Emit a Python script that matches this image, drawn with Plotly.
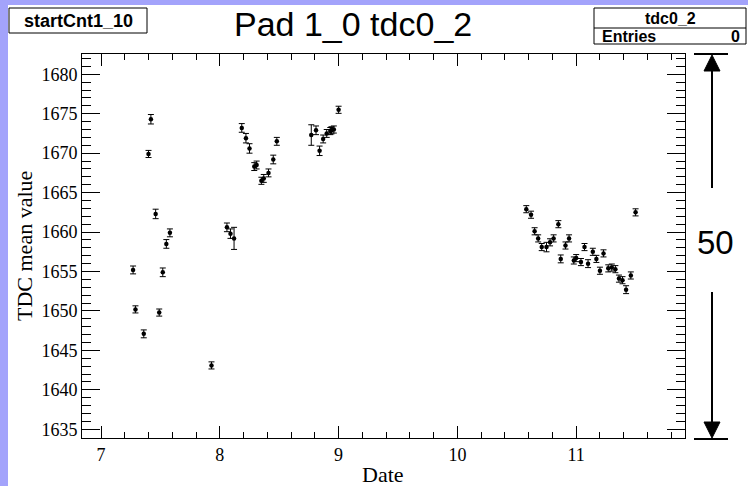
import plotly.graph_objects as go

# ---------------- data ----------------
dates = [7.27, 7.29, 7.36, 7.40, 7.42, 7.46, 7.49, 7.52, 7.55, 7.58,
         7.93,
         8.06, 8.09, 8.12, 8.185, 8.22, 8.25, 8.29, 8.31, 8.35, 8.37, 8.41, 8.45, 8.48,
         8.77, 8.81, 8.84, 8.87, 8.90, 8.93, 8.94, 8.96, 9.00,
         10.58, 10.62, 10.65, 10.68, 10.71, 10.75, 10.78, 10.81, 10.85, 10.87,
         10.91, 10.94, 10.98, 11.00, 11.04, 11.07, 11.10, 11.14, 11.17, 11.20,
         11.23, 11.27, 11.30, 11.33, 11.36, 11.39, 11.42, 11.46, 11.50]
tdc_mean = [1655.2, 1650.2, 1647.1, 1669.9, 1674.3, 1662.3, 1649.8, 1654.9, 1658.5, 1659.9,
            1643.1,
            1660.6, 1659.8, 1659.2, 1673.2, 1671.9, 1670.6, 1668.3, 1668.5, 1666.5, 1666.8, 1667.5, 1669.2, 1671.5,
            1672.3, 1672.9, 1670.3, 1671.8, 1672.5, 1672.8, 1672.9, 1673.0, 1675.5,
            1662.9, 1662.2, 1660.1, 1659.2, 1658.1, 1658.1, 1658.7, 1659.2, 1661.0, 1656.6,
            1658.3, 1659.2, 1656.4, 1656.7, 1656.2, 1658.1, 1656.0, 1657.5, 1656.6, 1655.1,
            1657.3, 1655.4, 1655.5, 1655.3, 1654.1, 1653.9, 1652.7, 1654.5, 1662.5]
tdc_err = [0.5, 0.45, 0.5, 0.45, 0.6, 0.6, 0.45, 0.55, 0.55, 0.5,
           0.45,
           0.55, 0.6, 1.4, 0.55, 0.6, 0.6, 0.5, 0.5, 0.45, 0.5, 0.5, 0.55, 0.5,
           1.3, 0.55, 0.6, 0.5, 0.5, 0.45, 0.45, 0.45, 0.45,
           0.45, 0.45, 0.45, 0.45, 0.45, 0.6, 0.45, 0.45, 0.45, 0.5,
           0.45, 0.45, 0.45, 0.45, 0.45, 0.45, 0.5, 0.45, 0.45, 0.45,
           0.45, 0.45, 0.45, 0.45, 0.45, 0.45, 0.5, 0.45, 0.45]

x_range = [6.840, 11.916]
y_range = [1633.90, 1682.57]
x_ticks = [7, 8, 9, 10, 11]
y_ticks = [1635, 1640, 1645, 1650, 1655, 1660, 1665, 1670, 1675, 1680]

title_text = "Pad 1_0 tdc0_2"
label_text = "startCnt1_10"
stats_name = "tdc0_2"
stats_entries = "0"
range_label = "50"

# ---------------- layout geometry (pixels) ----------------
W, H = 748, 486
L, R, T, B = 82, 685, 54, 438


def px(xp):
    return (xp - L) / (R - L)


def py(yp):
    return (B - yp) / (B - T)


BLUE = "#a3a3fb"
SANS = "Liberation Sans, Arial, sans-serif"
SERIF = "Liberation Serif, Times New Roman, serif"

fig = go.Figure()
fig.add_trace(go.Scatter(
    x=dates, y=tdc_mean, mode="markers",
    marker=dict(color="black", size=4.5, symbol="circle"),
    error_y=dict(type="data", array=tdc_err, visible=True, color="black",
                 thickness=1, width=3),
    showlegend=False, hoverinfo="x+y",
))

shapes = []
# white pad over the periwinkle canvas
shapes.append(dict(type="rect", xref="paper", yref="paper",
                   x0=px(8), x1=px(W + 2), y0=py(H + 2), y1=py(5),
                   fillcolor="white", line=dict(width=0), layer="below"))
# startCnt box
shapes.append(dict(type="rect", xref="paper", yref="paper",
                   x0=px(9), x1=px(147), y0=py(33), y1=py(8),
                   fillcolor="white", line=dict(color="black", width=1)))
# stats box
shapes.append(dict(type="rect", xref="paper", yref="paper",
                   x0=px(594), x1=px(746), y0=py(44), y1=py(8),
                   fillcolor="white", line=dict(color="black", width=1)))
shapes.append(dict(type="line", xref="paper", yref="paper",
                   x0=px(594), x1=px(746), y0=py(28), y1=py(28),
                   line=dict(color="black", width=1)))
# range arrow on the right
AX = 712
shapes.append(dict(type="line", xref="paper", yref="paper",
                   x0=px(694), x1=px(728), y0=py(T), y1=py(T),
                   line=dict(color="black", width=2)))
shapes.append(dict(type="line", xref="paper", yref="paper",
                   x0=px(694), x1=px(728), y0=py(B + 1), y1=py(B + 1),
                   line=dict(color="black", width=2)))
shapes.append(dict(type="line", xref="paper", yref="paper",
                   x0=px(AX), x1=px(AX), y0=py(T + 14), y1=py(188),
                   line=dict(color="black", width=2)))
shapes.append(dict(type="line", xref="paper", yref="paper",
                   x0=px(AX), x1=px(AX), y0=py(292), y1=py(B - 14),
                   line=dict(color="black", width=2)))


def tri(xc, ytip, ybase, hw):
    return "M {} {} L {} {} L {} {} Z".format(
        px(xc), py(ytip), px(xc - hw), py(ybase), px(xc + hw), py(ybase))


shapes.append(dict(type="path", xref="paper", yref="paper",
                   path=tri(AX, T + 1, T + 17, 8), fillcolor="black",
                   line=dict(color="black", width=1)))
shapes.append(dict(type="path", xref="paper", yref="paper",
                   path=tri(AX, B, B - 16, 8), fillcolor="black",
                   line=dict(color="black", width=1)))

annotations = [
    dict(text=title_text, xref="paper", yref="paper", x=px(353), y=py(24),
         showarrow=False, font=dict(family=SANS, size=34, color="black"),
         xanchor="center", yanchor="middle"),
    dict(text="<b>%s</b>" % label_text, xref="paper", yref="paper",
         x=px(78), y=py(20.5), showarrow=False,
         font=dict(family=SANS, size=18, color="black"),
         xanchor="center", yanchor="middle"),
    dict(text="<b>%s</b>" % stats_name, xref="paper", yref="paper",
         x=px(670), y=py(18), showarrow=False,
         font=dict(family=SANS, size=16, color="black"),
         xanchor="center", yanchor="middle"),
    dict(text="<b>Entries</b>", xref="paper", yref="paper",
         x=px(600), y=py(36.5), showarrow=False,
         font=dict(family=SANS, size=16, color="black"),
         xanchor="left", yanchor="middle"),
    dict(text="<b>%s</b>" % stats_entries, xref="paper", yref="paper",
         x=px(742), y=py(36.5), showarrow=False,
         font=dict(family=SANS, size=16, color="black"),
         xanchor="right", yanchor="middle"),
    dict(text=range_label, xref="paper", yref="paper",
         x=px(AX + 3), y=py(242), showarrow=False,
         font=dict(family=SANS, size=33, color="black"),
         xanchor="center", yanchor="middle"),
    dict(text="Date", xref="paper", yref="paper",
         x=px(383), y=py(474), showarrow=False,
         font=dict(family=SERIF, size=22, color="black"),
         xanchor="center", yanchor="middle"),
    dict(text="TDC mean value", xref="paper", yref="paper",
         x=px(24), y=py(246), showarrow=False, textangle=-90,
         font=dict(family=SERIF, size=22, color="black"),
         xanchor="center", yanchor="middle"),
]

axis_common = dict(showgrid=False, zeroline=False, showline=True,
                   linecolor="black", linewidth=1, mirror="allticks",
                   ticks="inside", tickcolor="black", tickwidth=1,
                   tickfont=dict(family=SERIF, size=18, color="black"))

fig.update_layout(
    width=W, height=H,
    margin=dict(l=L, r=W - R, t=T, b=H - B, pad=0),
    paper_bgcolor=BLUE, plot_bgcolor="white",
    xaxis=dict(range=x_range, tickvals=x_ticks, ticklen=12,
               minor=dict(dtick=0.2, tick0=7, ticklen=6, ticks="inside",
                          tickcolor="black", showgrid=False),
               **axis_common),
    yaxis=dict(range=y_range, tickvals=y_ticks, ticklen=18,
               minor=dict(dtick=1, tick0=1635, ticklen=9, ticks="inside",
                          tickcolor="black", showgrid=False),
               **axis_common),
    shapes=shapes, annotations=annotations,
)

fig.write_html("out.html")
